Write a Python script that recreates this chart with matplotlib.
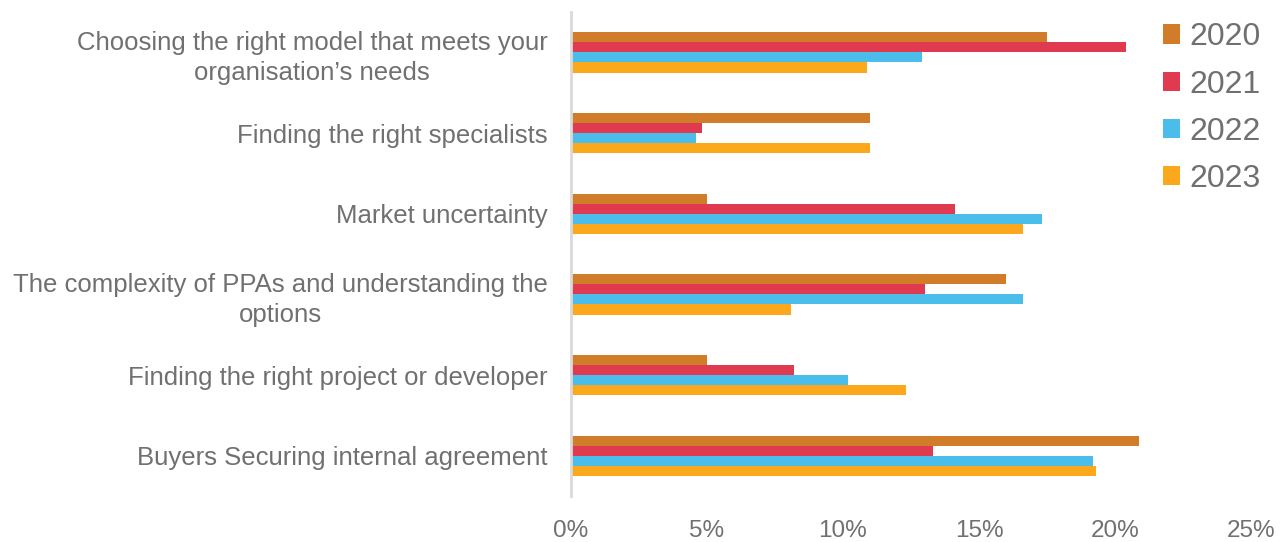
import matplotlib.pyplot as plt
import numpy as np

categories = [
    "Choosing the right model that meets your\norganisation\u2019s needs",
    "Finding the right specialists",
    "Market uncertainty",
    "The complexity of PPAs and understanding the\noptions",
    "Finding the right project or developer",
    "Buyers Securing internal agreement",
]
years = ["2020", "2021", "2022", "2023"]
v2020 = [17.5, 11.0, 5.0, 16.0, 5.0, 20.9]
v2021 = [20.4, 4.8, 14.1, 13.0, 8.2, 13.3]
v2022 = [12.9, 4.6, 17.3, 16.6, 10.2, 19.2]
v2023 = [10.9, 11.0, 16.6, 8.1, 12.3, 19.3]
colors = ["#D07C28", "#E03A50", "#4BBDEB", "#FBA81C"]

plt.rcParams['font.family'] = ['Liberation Sans', 'DejaVu Sans']
grey = "#707070"

fig = plt.figure(figsize=(12.81, 5.42), dpi=100)
ax = fig.add_axes([571 / 1281, 1 - 496 / 542, 680 / 1281, 484 / 542])

y = np.arange(len(categories))
h = 0.125
series = [v2020, v2021, v2022, v2023]
for i, (vals, yr, c) in enumerate(zip(series, years, colors)):
    ax.barh(y + (i - 1.5) * h, vals, height=h, color=c, label=yr)

ax.set_xlim(0, 25)
ax.set_ylim(len(categories) - 0.5, -0.5)
ax.set_yticks(y)
ax.set_yticklabels(categories, fontsize=18.5, color=grey, ha="right",
                   linespacing=1.3, multialignment="center")
ax.set_xticks(np.arange(0, 26, 5))
ax.set_xticklabels(["{}%".format(t) for t in range(0, 26, 5)], fontsize=17.5, color=grey)
ax.tick_params(axis="both", length=0)
ax.tick_params(axis="x", pad=17)
ax.tick_params(axis="y", pad=17)
for s in ["top", "right", "bottom"]:
    ax.spines[s].set_visible(False)
ax.spines["left"].set_color("#d9d9d9")
ax.spines["left"].set_linewidth(2)

leg = fig.legend(loc="upper right", bbox_to_anchor=(1.002, 1.0), frameon=False,
                 fontsize=23, handlelength=0.55, handleheight=0.55, handletextpad=0.3,
                 labelspacing=0.54, labelcolor=grey, borderaxespad=0.3)

fig.savefig("out.png", dpi=100)
